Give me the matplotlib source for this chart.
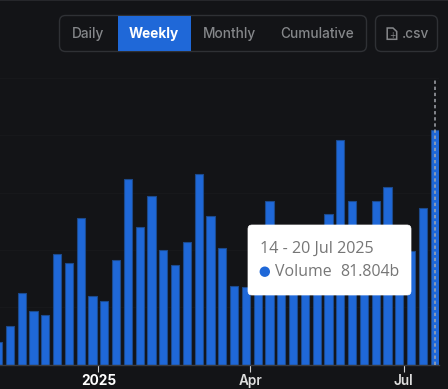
import pandas as pd
import matplotlib
matplotlib.use("Agg")
import matplotlib.pyplot as plt
from matplotlib.patches import FancyBboxPatch, Rectangle, Circle, PathPatch
from matplotlib.path import Path

week_ends = pd.date_range(end="2025-07-20", periods=38, freq="7D")
volume = [7.7, 13.4, 24.9, 18.8, 17.2, 38.5, 35.5, 51.1, 23.8, 22.0,
          36.6, 64.9, 48.1, 58.9, 39.8, 34.6, 42.9, 66.4, 51.9, 40.5,
          27.3, 27.2, 30.0, 57.1, 33.0, 36.0, 31.0, 38.0, 52.7, 78.5,
          57.0, 44.0, 57.0, 61.8, 42.0, 39.5, 54.6, 81.804]
tick_dates = ["2025-01-01", "2025-04-01", "2025-07-01"]
tick_labels = ["2025", "Apr", "Jul"]
buttons = ["Daily", "Weekly", "Monthly", "Cumulative"]

BG = "#131417"
BLUE = "#1f68d8"
W, H = 448, 389

fig = plt.figure(figsize=(W / 100, H / 100), dpi=100, facecolor=BG)
ax = fig.add_axes([0, (H - 364.5) / H, 439 / W, 286.5 / H], facecolor=BG)

x = week_ends - pd.Timedelta(hours=12)
day_px = 11.8 / 7
ax.bar(x, volume, width=4.9, color=BLUE, edgecolor="#1c4a8c", linewidth=0.8, zorder=2)
ax.set_xlim(x[-1] - pd.Timedelta(days=434.7 / day_px), x[-1] + pd.Timedelta(days=4.3 / day_px))
ax.set_ylim(0, 100)
ax.set_yticks([0, 20, 40, 60, 80, 100])
ax.yaxis.grid(True, color="#17181b", linewidth=0.8)
ax.set_axisbelow(True)
ax.tick_params(axis="y", length=0, labelleft=False)
ax.set_xticks(pd.to_datetime(tick_dates))
ax.set_xticklabels(tick_labels, color="#dedede", fontsize=9.8, family="Inter", fontweight="semibold")
ax.get_xticklabels()[0].set_fontweight("bold")
ax.get_xticklabels()[0].set_color("white")
ax.tick_params(axis="x", length=5, width=0.8, color="#d0d0d0", pad=2)
for s in ["top", "left", "right"]:
    ax.spines[s].set_visible(False)
ax.spines["bottom"].set_color("#3a3c41")
ax.spines["bottom"].set_linewidth(1)
ax.axvline(x[-1], color="#a3a6ac", linewidth=1.1, linestyle=(0, (2.2, 1.8)), zorder=3)

# overlay in pixel coordinates for the page controls and tooltip
ui = fig.add_axes([0, 0, 1, 1], facecolor="none")
ui.set_xlim(0, W)
ui.set_ylim(H, 0)
ui.axis("off")


def box(x0, y0, w, h, r, fc, ec, lw=1, z=5):
    p = FancyBboxPatch((x0 + r, y0 + r), w - 2 * r, h - 2 * r,
                       boxstyle=f"round,pad={r},rounding_size={r}",
                       facecolor=fc, edgecolor=ec, linewidth=lw, zorder=z)
    ui.add_patch(p)


ui.add_patch(Rectangle((0, 0), W, 1.2, facecolor="#26272b", edgecolor="none"))

box(59.5, 15.5, 307, 36, 6, "none", "#2f3135")
ui.add_patch(Rectangle((118, 16), 73, 35, facecolor=BLUE, edgecolor="none", zorder=6))
label_x = [88.5, 154, 229, 317]
for b, lx in zip(buttons, label_x):
    active = b == "Weekly"
    ui.text(lx, 33.5, b, ha="center", va="center", fontsize=9.8, family="Inter",
            color="white" if active else "#85878a",
            fontweight="bold" if active else "medium", zorder=7)

box(375.5, 15.5, 62, 36, 6, "none", "#2f3135")
ui.text(415.5, 33.5, ".csv", ha="center", va="center", fontsize=9.8, family="Inter",
        color="#85878a", fontweight="medium", zorder=7)
icon = Path([(387.2, 28), (393, 28), (396.7, 31.5), (396.7, 39.3), (387.2, 39.3), (387.2, 28)],
            [Path.MOVETO, Path.LINETO, Path.LINETO, Path.LINETO, Path.LINETO, Path.CLOSEPOLY])
ui.add_patch(PathPatch(icon, facecolor="none", edgecolor="#85878a", linewidth=1.1, zorder=7))
ui.text(392, 35.5, "+", ha="center", va="center", fontsize=5.5, color="#85878a", zorder=7)

box(248, 225, 163, 70, 4, "white", "white", lw=0.5, z=8)
ui.text(260, 248.5, "14 - 20 Jul 2025", ha="left", va="center", fontsize=11.6,
        family="Open Sans", color="#767676", zorder=9)
ui.add_patch(Circle((264.8, 271.7), 5.2, facecolor=BLUE, edgecolor="none", zorder=9))
ui.text(275, 271.5, "Volume", ha="left", va="center", fontsize=11.4,
        family="Open Sans", color="#767676", zorder=9)
ui.text(340, 271.5, "81.804b", ha="left", va="center", fontsize=11.4,
        family="Open Sans", color="#767676", zorder=9)

fig.savefig("out.png", dpi=100, facecolor=BG)
